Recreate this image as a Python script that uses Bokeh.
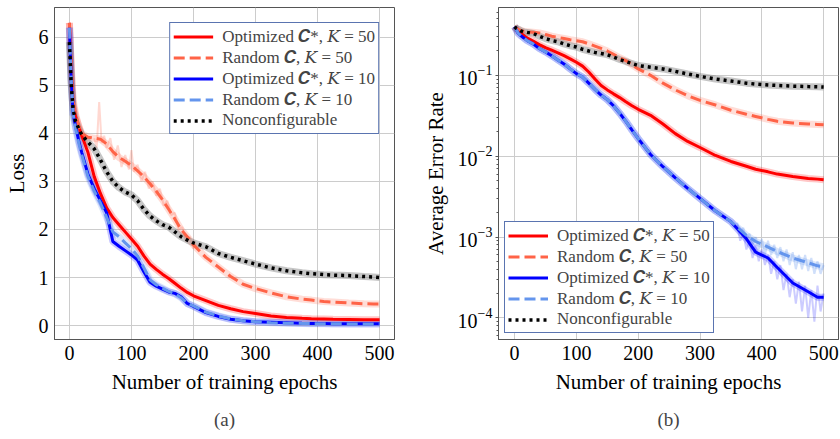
from bokeh.plotting import figure
from bokeh.models import Range1d, FixedTicker, Legend, LegendItem, Title
from bokeh.layouts import row
from bokeh.embed import file_html
from bokeh.resources import INLINE

# ---------------- data ----------------
epochs = [0, 3, 6, 10, 15, 20, 30, 40, 50, 60, 70, 80, 90, 100, 110, 120, 130, 140, 150, 160,
          170, 180, 190, 200, 220, 240, 260, 280, 300, 325, 350, 375, 390, 410, 425, 450, 475, 490, 500]

loss_opt50 = [6.3, 5.3, 4.6, 4.35, 4.15, 3.95, 3.6, 3.1, 2.75, 2.45, 2.25, 2.1, 1.95, 1.8, 1.65, 1.45, 1.28, 1.17, 1.07, 0.98,
              0.88, 0.78, 0.69, 0.62, 0.52, 0.42, 0.35, 0.29, 0.25, 0.2, 0.17, 0.15, 0.14, 0.135, 0.13, 0.125, 0.12, 0.12, 0.12]
loss_rnd50 = [6.3, 5.4, 4.7, 4.4, 4.15, 4.0, 3.92, 3.9, 3.88, 3.78, 3.62, 3.5, 3.42, 3.33, 3.22, 3.1, 2.95, 2.8, 2.62, 2.42,
              2.22, 2.0, 1.85, 1.68, 1.42, 1.22, 1.02, 0.86, 0.77, 0.68, 0.6, 0.55, 0.53, 0.5, 0.49, 0.47, 0.455, 0.45, 0.45]
loss_opt10 = [6.2, 5.1, 4.4, 4.15, 3.85, 3.6, 3.15, 2.85, 2.6, 2.35, 1.75, 1.65, 1.56, 1.47, 1.36, 1.12, 0.9, 0.82, 0.76, 0.7,
              0.67, 0.6, 0.46, 0.4, 0.27, 0.19, 0.13, 0.1, 0.08, 0.07, 0.06, 0.05, 0.045, 0.042, 0.04, 0.04, 0.04, 0.04, 0.04]
loss_rnd10 = [6.2, 5.1, 4.4, 4.1, 3.8, 3.55, 3.1, 2.8, 2.55, 2.25, 1.95, 1.85, 1.72, 1.6, 1.45, 1.2, 0.95, 0.85, 0.78, 0.71,
              0.66, 0.58, 0.46, 0.41, 0.28, 0.2, 0.14, 0.1, 0.08, 0.06, 0.05, 0.045, 0.04, 0.038, 0.036, 0.035, 0.035, 0.035, 0.035]
loss_non = [5.9, 5.0, 4.5, 4.25, 4.1, 3.97, 3.82, 3.68, 3.45, 3.2, 3.0, 2.87, 2.78, 2.72, 2.6, 2.42, 2.28, 2.18, 2.1, 2.05,
            1.95, 1.85, 1.78, 1.72, 1.64, 1.5, 1.42, 1.35, 1.28, 1.2, 1.14, 1.1, 1.08, 1.06, 1.05, 1.04, 1.02, 1.01, 1.0]

err_opt50 = [0.40, 0.37, 0.35, 0.33, 0.31, 0.29, 0.265, 0.24, 0.22, 0.205, 0.19, 0.175, 0.16, 0.145, 0.13, 0.11, 0.09, 0.075, 0.066, 0.059,
             0.053, 0.047, 0.042, 0.038, 0.032, 0.025, 0.019, 0.0152, 0.0128, 0.0102, 0.0086, 0.0075, 0.0069, 0.0064, 0.006, 0.0056, 0.0053, 0.0052, 0.0051]
err_rnd50 = [0.40, 0.38, 0.37, 0.36, 0.35, 0.345, 0.34, 0.335, 0.32, 0.305, 0.295, 0.285, 0.275, 0.268, 0.26, 0.245, 0.23, 0.215, 0.2, 0.182,
             0.165, 0.152, 0.135, 0.12, 0.1, 0.08, 0.066, 0.056, 0.049, 0.043, 0.037, 0.033, 0.031, 0.0285, 0.027, 0.0257, 0.025, 0.0247, 0.0245]
err_opt10 = [0.40, 0.36, 0.33, 0.31, 0.29, 0.27, 0.245, 0.215, 0.195, 0.175, 0.155, 0.138, 0.12, 0.105, 0.095, 0.08, 0.067, 0.057, 0.05, 0.042,
             0.034, 0.027, 0.021, 0.0165, 0.0105, 0.0074, 0.0054, 0.004, 0.003, 0.0021, 0.00155, 0.00095, 0.00065, 0.00055, 0.00042, 0.00027, 0.00021, 0.00018, 0.00018]
err_rnd10 = [0.40, 0.36, 0.33, 0.31, 0.29, 0.27, 0.245, 0.215, 0.195, 0.175, 0.155, 0.138, 0.12, 0.105, 0.095, 0.08, 0.067, 0.057, 0.05, 0.042,
             0.034, 0.027, 0.021, 0.0165, 0.0105, 0.0074, 0.0054, 0.004, 0.003, 0.0021, 0.00155, 0.00105, 0.00088, 0.00075, 0.00066, 0.00055, 0.00048, 0.00044, 0.00043]
err_non = [0.40, 0.38, 0.37, 0.355, 0.345, 0.34, 0.33, 0.305, 0.285, 0.27, 0.26, 0.245, 0.232, 0.224, 0.21, 0.2, 0.192, 0.186, 0.18, 0.168,
           0.157, 0.148, 0.14, 0.132, 0.126, 0.12, 0.112, 0.104, 0.097, 0.09, 0.085, 0.08, 0.078, 0.076, 0.075, 0.0735, 0.0725, 0.072, 0.0715]

# raw (unsmoothed) readings where the noise is large
raw_epochs_a = [40, 44, 48, 52, 56, 60, 66, 72, 78, 84, 90, 96, 100, 104, 110, 116, 122, 128, 134, 140,
                146, 152, 158, 164, 170, 176, 182, 188, 194, 200]
raw_loss_rnd50 = [3.9, 3.7, 4.65, 3.8, 3.95, 3.7, 3.9, 3.45, 3.75, 3.3, 3.55, 3.25, 3.65, 3.2, 3.35, 3.0, 3.2, 2.85, 3.0, 2.7,
                  2.85, 2.5, 2.6, 2.3, 2.35, 2.0, 2.05, 1.75, 1.85, 1.6]
raw_epochs_b = [360, 365, 370, 375, 380, 385, 390, 395, 400, 405, 410, 415, 420, 425, 430, 435, 440, 445, 450, 455,
                460, 465, 470, 475, 480, 485, 490, 495, 500]
raw_err_opt10 = [0.0014, 0.0009, 0.0011, 0.0007, 0.0009, 0.00055, 0.0008, 0.0005, 0.0007, 0.00045, 0.0006, 0.00035, 0.0005, 0.0003, 0.00045,
                 0.00022, 0.00035, 0.00018, 0.0003, 0.00015, 0.00028, 0.00012, 0.00025, 0.0001, 0.00022, 0.00009, 0.00025, 0.00012, 0.0002]
raw_err_rnd10 = [0.0015, 0.0011, 0.0013, 0.0009, 0.0011, 0.0008, 0.001, 0.0007, 0.00095, 0.0006, 0.0009, 0.0006, 0.0008, 0.00055, 0.00075,
                 0.0005, 0.0007, 0.00045, 0.00065, 0.0004, 0.0006, 0.0004, 0.0006, 0.00038, 0.00055, 0.00035, 0.0005, 0.00035, 0.00045]

labels = ["Optimized \U0001D46A*, \U0001D43E = 50", "Random \U0001D46A, \U0001D43E = 50",
          "Optimized \U0001D46A*, \U0001D43E = 10", "Random \U0001D46A, \U0001D43E = 10", "Nonconfigurable"]
x_ticks = [0, 100, 200, 300, 400, 500]
loss_ticks = [0, 1, 2, 3, 4, 5, 6]
err_ticks = [1e-4, 1e-3, 1e-2, 1e-1]

# ---------------- style ----------------
FONT = "Liberation Serif"
LEGEND_FONT = "Liberation Serif, DejaVu Serif, serif"
colors = ["#ff0000", "#ff6347", "#0000ff", "#6495ed", "#000000"]
band_colors = ["#ff0000", "#ff6347", "#0000ff", "#6495ed", "#808080"]
dashes = ["solid", "11 5", "solid", "11 5", "3 4"]
widths = [3, 3, 3, 3, 3.5]


def style(p):
    p.outline_line_color = "#555555"
    p.outline_line_width = 1
    p.outline_line_alpha = 1
    p.background_fill_color = "white"
    p.border_fill_color = "white"
    for g in p.grid:
        g.grid_line_color = "#cccccc"
        g.grid_line_width = 1
    for ax in p.axis:
        ax.axis_line_color = "#555555"
        ax.major_label_text_font = FONT
        ax.major_label_text_font_size = "20px"
        ax.major_label_text_color = "black"
        ax.axis_label_text_font = FONT
        ax.axis_label_text_font_size = "21px"
        ax.axis_label_text_font_style = "normal"
        ax.axis_label_text_color = "black"
        ax.major_tick_line_color = "#555555"
        ax.minor_tick_line_color = "#555555"
        ax.major_label_standoff = 6
        ax.axis_label_standoff = 7


def draw(p, ys, legend_loc, margin):
    for y, bc in zip(ys, band_colors):
        p.line(epochs, y, line_color=bc, line_width=7, line_alpha=0.22 if bc != "#808080" else 0.45)
    items = []
    for y, c, d, w, lab in zip(ys, colors, dashes, widths, labels):
        r = p.line(epochs, y, line_color=c, line_width=w, line_dash=d)
        items.append(LegendItem(label=lab, renderers=[r]))
    leg = Legend(items=items, location=legend_loc, margin=margin)
    leg.label_text_font = LEGEND_FONT
    leg.label_text_font_size = "17px"
    leg.label_text_line_height = 1.0
    leg.border_line_color = "#5a74b0"
    leg.border_line_width = 1.5
    leg.border_line_alpha = 1
    leg.background_fill_alpha = 1
    leg.padding = 3
    leg.spacing = 0
    leg.label_height = 19
    leg.glyph_height = 19
    leg.glyph_width = 40
    leg.label_standoff = 9
    p.add_layout(leg)


# ---------------- left: loss ----------------
p1 = figure(output_backend="svg", toolbar_location=None,
            width=418, height=439,
            min_border_left=54, min_border_right=24, min_border_top=7, min_border_bottom=97,
            x_range=Range1d(-24, 524), y_range=Range1d(-0.29, 6.62))
style(p1)
p1.xaxis.ticker = FixedTicker(ticks=x_ticks)
p1.yaxis.ticker = FixedTicker(ticks=loss_ticks)
for ax in p1.axis:
    ax.major_tick_out = 0
    ax.major_tick_in = 0
    ax.minor_tick_out = 0
    ax.minor_tick_in = 0
p1.xaxis.axis_label = "Number of training epochs"
p1.yaxis.axis_label = "Loss"
p1.line(raw_epochs_a, raw_loss_rnd50, line_color="#ff6347", line_width=2, line_alpha=0.25)
draw(p1, [loss_opt50, loss_rnd50, loss_opt10, loss_rnd10, loss_non], "top_right", 15)
p1.add_layout(Title(text="(a)", align="center", text_font=FONT, text_font_size="19px",
                    text_font_style="normal", standoff=20), "below")

# ---------------- right: error rate ----------------
minor = [m * 10.0 ** e for e in range(-5, 0) for m in range(2, 10)]
p2 = figure(output_backend="svg", toolbar_location=None, y_axis_type="log",
            width=422, height=439,
            min_border_left=80, min_border_right=2, min_border_top=7, min_border_bottom=97,
            x_range=Range1d(-26, 524), y_range=Range1d(5.4e-5, 0.69))
style(p2)
p2.xaxis.ticker = FixedTicker(ticks=x_ticks)
p2.yaxis.ticker = FixedTicker(ticks=err_ticks, minor_ticks=minor)
p2.xaxis.major_tick_out = 0
p2.xaxis.major_tick_in = 0
p2.xaxis.minor_tick_out = 0
p2.xaxis.minor_tick_in = 0
p2.yaxis.major_tick_out = 3
p2.yaxis.major_tick_in = 0
p2.yaxis.minor_tick_out = 2
p2.yaxis.minor_tick_in = 0
p2.yaxis.major_label_standoff = 3
p2.xaxis.axis_label = "Number of training epochs"
p2.yaxis.axis_label = "Average Error Rate"
p2.line(raw_epochs_b, raw_err_rnd10, line_color="#6495ed", line_width=2, line_alpha=0.3)
p2.line(raw_epochs_b, raw_err_opt10, line_color="#0000ff", line_width=2, line_alpha=0.2)
draw(p2, [err_opt50, err_rnd50, err_opt10, err_rnd10, err_non], "bottom_left", 6)
p2.add_layout(Title(text="(b)", align="center", text_font=FONT, text_font_size="19px",
                    text_font_style="normal", standoff=20), "below")

layout = row(p1, p2)
open("out.html", "w").write(file_html(layout, INLINE))
